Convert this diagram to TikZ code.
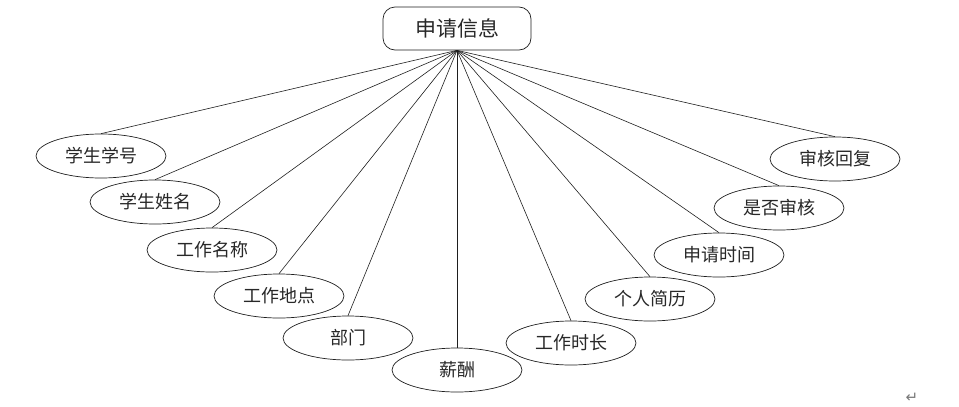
\documentclass[tikz,border=0pt]{standalone}
\usepackage{fontspec}
\newfontfamily\cjk{Noto Sans CJK SC}
\newfontfamily\symfont{DejaVu Sans}
\usepackage{tikz}
\usetikzlibrary{shapes,positioning}
\usepackage{xcolor}
\definecolor{erline}{RGB}{30,30,30}
\definecolor{ertext}{RGB}{40,40,40}
\definecolor{ergray}{RGB}{120,120,120}
\tikzstyle{link} = [color=erline, line width=0.6pt]
\tikzstyle{entitybox} = [rectangle, rounded corners=12pt, minimum width=148pt, minimum height=43pt, inner sep=0pt, text centered, draw=erline, fill=white, text=ertext, line width=0.7pt, font=\cjk\fontsize{21}{25}\selectfont]
\tikzstyle{attrbox} = [ellipse, minimum width=130pt, minimum height=44pt, inner sep=0pt, text centered, draw=erline, fill=white, text=ertext, line width=0.7pt, font=\cjk\fontsize{18}{22}\selectfont]

\begin{document}
\begin{tikzpicture}[x=1pt, y=-1pt]
\useasboundingbox (0,0) rectangle (959,407);
% Entity
\node[entitybox] (info) at (457,28.5) {申请信息};

% Attributes, left side
\node[attrbox] (sid) at (101,156) {学生学号};
\node[attrbox] (sname) at (155,202) {学生姓名};
\node[attrbox] (job) at (212,250) {工作名称};
\node[attrbox] (place) at (279,296) {工作地点};
\node[attrbox] (dept) at (348,338) {部门};
\node[attrbox] (pay) at (457,370) {薪酬};

% Attributes, right side
\node[attrbox] (hours) at (571,343) {工作时长};
\node[attrbox] (resume) at (650,299) {个人简历};
\node[attrbox] (atime) at (719,255) {申请时间};
\node[attrbox] (checked) at (779,208) {是否审核};
\node[attrbox] (reply) at (835,159) {审核回复};

\draw[link] (info.south) -- (sid.north);
\draw[link] (info.south) -- (sname.north);
\draw[link] (info.south) -- (job.north);
\draw[link] (info.south) -- (place.north);
\draw[link] (info.south) -- (dept.north);
\draw[link] (info.south) -- (pay.north);
\draw[link] (info.south) -- (hours.north);
\draw[link] (info.south) -- (resume.north);
\draw[link] (info.south) -- (atime.north);
\draw[link] (info.south) -- (checked.north);
\draw[link] (info.south) -- (reply.north);

% Paragraph mark
\node[text=ergray, font=\symfont\fontsize{15}{17}\selectfont] (mark) at (912,398) {↵};
\end{tikzpicture}
\end{document}
